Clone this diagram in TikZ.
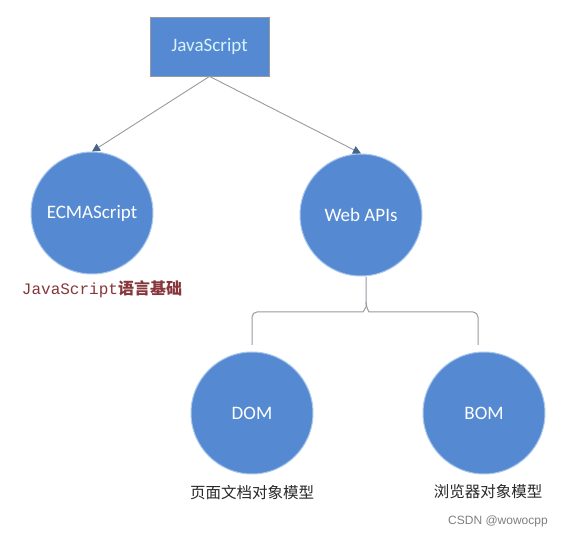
\documentclass[tikz,border=0pt]{standalone}
\usepackage{fontspec}
\setmainfont{Carlito}
\newfontfamily\cjk{Noto Sans CJK SC}
\newfontfamily\monof{Liberation Mono}
\newfontfamily\arialf{Liberation Sans}
\usetikzlibrary{arrows.meta}
\definecolor{nodeblue}{RGB}{85,138,210}
\definecolor{rimblue}{RGB}{170,200,235}
\definecolor{linegray}{RGB}{150,155,160}
\definecolor{tipblue}{RGB}{70,100,140}
\definecolor{brownred}{RGB}{135,55,60}
\definecolor{textgray}{RGB}{40,40,40}
\tikzset{
  bubble/.style={circle, fill=nodeblue, draw=rimblue, line width=1pt, minimum size=122pt, inner sep=0pt, text=white, font=\fontsize{19}{22}\selectfont},
  topbox/.style={rectangle, fill=nodeblue, draw=linegray, line width=0.8pt, minimum width=119pt, minimum height=59pt, text=white!85!cyan, font=\fontsize{19}{22}\selectfont},
  conn/.style={draw=linegray, line width=0.9pt, -{Triangle[length=8pt,width=8pt,fill=tipblue,color=tipblue]}},
  brace/.style={draw=linegray, line width=1pt, rounded corners=5pt},
  caption/.style={text=textgray, font=\cjk\fontsize{15.5}{18}\selectfont, inner sep=0pt}
}
\begin{document}
\begin{tikzpicture}[x=1pt,y=-1pt]
\useasboundingbox (0,0) rectangle (563,537);
\fill[white] (0,0) rectangle (563,537);
\node[topbox] (js) at (209.5,46.5) {JavaScript};
\node[bubble] (ecma) at (92,213) {ECMAScript};
\node[bubble] (web) at (361,215) {Web APIs};
\node[bubble] (dom) at (252,413) {DOM};
\node[bubble] (bom) at (484,413) {BOM};
\draw[conn] (js.south) -- (ecma.north);
\draw[conn] (js.south) -- (web.north);
\draw[brace] (366,277) -- (366,302) to[out=-90,in=0] (358,312) -- (252,312) -- (252,345);
\draw[brace] (366,302) to[out=-90,in=180] (374,312) -- (478,312) -- (478,345);
\node[inner sep=0pt, text=brownred] (jslbl) at (102,289) {\monof\fontsize{16}{18}\selectfont JavaScript\cjk\bfseries 语言基础};
\node[caption] (domlbl) at (252,493) {页面文档对象模型};
\node[caption] (bomlbl) at (488,492) {浏览器对象模型};
\node[inner sep=0pt, text=gray, font=\arialf\fontsize{12}{14}\selectfont] (csdn) at (498,521) {CSDN @wowocpp};
\end{tikzpicture}
\end{document}
